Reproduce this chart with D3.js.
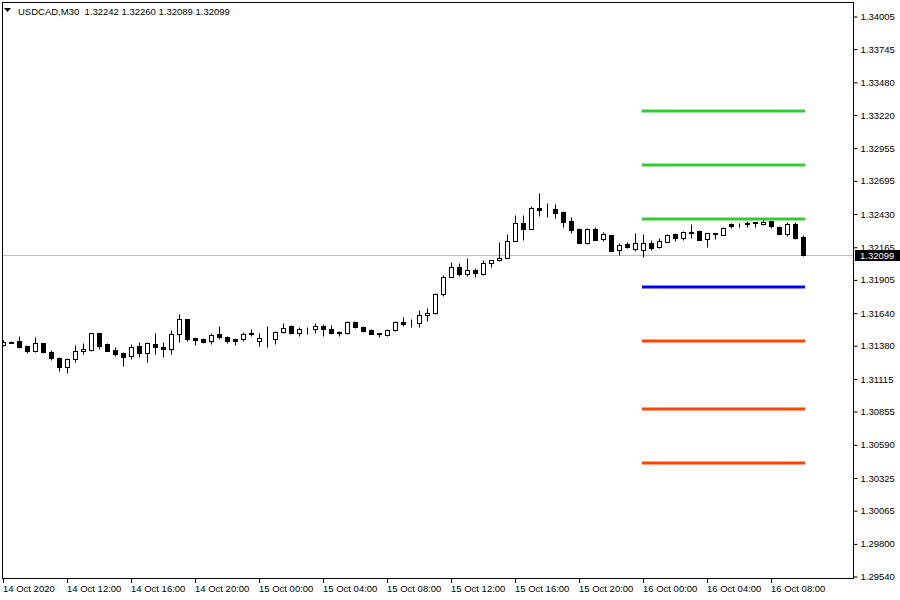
<!DOCTYPE html>
<html><head><meta charset="utf-8">
<script src="https://cdn.jsdelivr.net/npm/d3@7"></script>
<style>
html,body{margin:0;padding:0;background:#fff;}
svg{display:block;font-family:"Liberation Sans",Arial,sans-serif;}
</style></head>
<body><svg id="chart" width="900" height="600"></svg>
<script>
// ---------- data ----------
const symbolTitle = "USDCAD,M30  1.32242 1.32260 1.32089 1.32099";
const opens  = [1.31382,1.31406,1.31414,1.31374,1.31334,1.31398,1.31326,1.31280,1.31206,1.31270,
  1.31330,1.31342,1.31476,1.31388,1.31342,1.31320,1.31294,1.31374,1.31320,1.31390,
  1.31368,1.31348,1.31468,1.31588,1.31436,1.31428,1.31414,1.31468,1.31444,1.31428,
  1.31428,1.31480,1.31414,1.31444,1.31428,1.31484,1.31534,1.31476,1.31514,1.31510,
  1.31534,1.31508,1.31486,1.31476,1.31568,1.31528,1.31502,1.31476,1.31462,1.31502,
  1.31568,1.31554,1.31556,1.31620,1.31636,1.31785,1.31925,1.32005,1.31945,1.31979,
  1.31945,1.32035,1.32059,1.32073,1.32213,1.32357,1.32307,1.32473,1.32467,1.32465,
  1.32441,1.32371,1.32305,1.32193,1.32305,1.32225,1.32259,1.32139,1.32185,1.32145,
  1.32139,1.32193,1.32161,1.32205,1.32265,1.32237,1.32275,1.32291,1.32225,1.32267,
  1.32259,1.32345,1.32345,1.32345,1.32357,1.32347,1.32371,1.32325,1.32265,1.32347,
  1.32242];
const highs  = [1.31422,1.31414,1.31454,1.31382,1.31446,1.31400,1.31342,1.31288,1.31278,1.31382,
  1.31400,1.31478,1.31480,1.31400,1.31368,1.31328,1.31388,1.31408,1.31408,1.31476,
  1.31408,1.31502,1.31630,1.31590,1.31440,1.31436,1.31476,1.31534,1.31454,1.31434,
  1.31488,1.31508,1.31480,1.31534,1.31494,1.31560,1.31542,1.31528,1.31528,1.31556,
  1.31550,1.31542,1.31494,1.31576,1.31576,1.31534,1.31508,1.31478,1.31508,1.31576,
  1.31604,1.31588,1.31662,1.31676,1.31797,1.31939,1.32045,1.32033,1.32073,1.31993,
  1.32059,1.32061,1.32205,1.32267,1.32419,1.32419,1.32491,1.32593,1.32513,1.32507,
  1.32451,1.32401,1.32317,1.32311,1.32325,1.32281,1.32261,1.32193,1.32205,1.32273,
  1.32265,1.32219,1.32233,1.32265,1.32277,1.32291,1.32345,1.32295,1.32275,1.32275,
  1.32319,1.32357,1.32357,1.32371,1.32361,1.32385,1.32373,1.32331,1.32365,1.32365,
  1.32260];
const lows   = [1.31374,1.31398,1.31360,1.31318,1.31326,1.31320,1.31262,1.31176,1.31158,1.31250,
  1.31308,1.31334,1.31348,1.31334,1.31294,1.31216,1.31268,1.31288,1.31250,1.31310,
  1.31284,1.31310,1.31408,1.31416,1.31382,1.31396,1.31388,1.31428,1.31396,1.31382,
  1.31414,1.31454,1.31376,1.31368,1.31388,1.31476,1.31470,1.31456,1.31468,1.31476,
  1.31456,1.31470,1.31456,1.31468,1.31516,1.31488,1.31468,1.31448,1.31456,1.31494,
  1.31534,1.31528,1.31524,1.31576,1.31630,1.31773,1.31921,1.31933,1.31933,1.31925,
  1.31939,1.32001,1.32053,1.32073,1.32211,1.32219,1.32305,1.32411,1.32401,1.32393,
  1.32325,1.32277,1.32193,1.32190,1.32217,1.32213,1.32131,1.32099,1.32153,1.32133,
  1.32085,1.32139,1.32153,1.32201,1.32213,1.32219,1.32233,1.32219,1.32165,1.32225,
  1.32259,1.32317,1.32325,1.32325,1.32325,1.32339,1.32313,1.32265,1.32253,1.32227,
  1.32089];
const closes = [1.31406,1.31398,1.31366,1.31334,1.31398,1.31326,1.31278,1.31204,1.31270,1.31330,
  1.31348,1.31476,1.31376,1.31336,1.31308,1.31288,1.31368,1.31320,1.31396,1.31364,
  1.31348,1.31468,1.31588,1.31430,1.31422,1.31404,1.31462,1.31444,1.31416,1.31416,
  1.31470,1.31468,1.31440,1.31446,1.31488,1.31516,1.31476,1.31508,1.31518,1.31534,
  1.31508,1.31476,1.31480,1.31568,1.31524,1.31496,1.31470,1.31470,1.31502,1.31568,
  1.31548,1.31556,1.31622,1.31640,1.31787,1.31921,1.32001,1.31945,1.31979,1.31953,
  1.32033,1.32059,1.32077,1.32211,1.32353,1.32307,1.32473,1.32459,1.32467,1.32437,
  1.32365,1.32299,1.32193,1.32305,1.32219,1.32265,1.32133,1.32179,1.32161,1.32197,
  1.32197,1.32153,1.32213,1.32259,1.32233,1.32281,1.32283,1.32219,1.32273,1.32273,
  1.32317,1.32333,1.32345,1.32357,1.32359,1.32365,1.32331,1.32265,1.32347,1.32237,
  1.32099];
const timeLabels = ["14 Oct 2020","14 Oct 12:00","14 Oct 16:00","14 Oct 20:00","15 Oct 00:00",
  "15 Oct 04:00","15 Oct 08:00","15 Oct 12:00","15 Oct 16:00","15 Oct 20:00",
  "16 Oct 00:00","16 Oct 04:00","16 Oct 08:00"];
const timeLabelBars = [0,8,16,24,32,40,48,56,64,72,80,88,96];
const priceTicks = [1.34005,1.33745,1.33480,1.33220,1.32955,1.32695,1.32430,1.32165,1.31905,
  1.31640,1.31380,1.31115,1.30855,1.30590,1.30325,1.30065,1.29800,1.29540];
const levelValues = [1.33248,1.32817,1.32386,1.31844,1.31414,1.30872,1.30441];
const levelColors = ["#32cd32","#32cd32","#32cd32","#0000ff","#ff4500","#ff4500","#ff4500"];
const levelStartBar = 80, levelEndBar = 100;
const bidPrice = 1.32099;

// ---------- layout ----------
const svg = d3.select("#chart");
const L = 2, T = 2, R = 853, B = 578;
const x = d3.scaleLinear().domain([0, 100]).range([3, 803]);
const y = d3.scaleLinear().domain([1.29540, 1.34005]).range([576, 16]);
const px = v => Math.round(x(v)) + 0.5;
const py = v => Math.round(y(v)) + 0.5;

const plot = svg.append("g");
svg.append("defs").append("clipPath").attr("id","clip")
  .append("rect").attr("x", L+1).attr("y", T+1).attr("width", R-L-1).attr("height", B-T-1);
const inner = plot.append("g").attr("clip-path","url(#clip)");

// bid line
inner.append("line").attr("x1", L).attr("x2", R).attr("y1", py(bidPrice)).attr("y2", py(bidPrice))
  .attr("stroke", "#c0c0c0").attr("stroke-width", 1);

// candles
const bars = d3.range(opens.length).map(i => ({i, o:opens[i], h:highs[i], l:lows[i], c:closes[i]}));
const cg = inner.append("g");
bars.forEach(d => {
  const cx = px(d.i);
  cg.append("line").attr("x1", cx).attr("x2", cx).attr("y1", py(d.h)).attr("y2", py(d.l))
    .attr("stroke", "#000").attr("stroke-width", 1);
  const top = py(Math.max(d.o, d.c)), bot = py(Math.min(d.o, d.c));
  const bull = d.c > d.o;
  cg.append("rect").attr("x", cx - 2).attr("y", top).attr("width", 4).attr("height", Math.max(0, bot - top))
    .attr("fill", bull ? "#fff" : "#000").attr("stroke", "#000").attr("stroke-width", 1);
});

// levels
inner.selectAll("line.level").data(levelValues).join("line").attr("class","level")
  .attr("x1", x(levelStartBar) - 1).attr("x2", x(levelEndBar) + 2)
  .attr("y1", d => Math.round(y(d))).attr("y2", d => Math.round(y(d)))
  .attr("stroke", (d,i) => levelColors[i]).attr("stroke-width", 3);

// frame
plot.append("rect").attr("x", L + 0.5).attr("y", T + 0.5).attr("width", R - L).attr("height", B - T)
  .attr("fill", "none").attr("stroke", "#000").attr("stroke-width", 1);

// right price axis
const yAxis = d3.axisRight(y).tickValues(priceTicks).tickFormat(d3.format(".5f"))
  .tickSize(4).tickPadding(3);
const ya = svg.append("g").attr("transform", `translate(${R + 0.5},0.5)`).call(yAxis);
ya.select(".domain").remove();
ya.selectAll("text").attr("font-size", "9.5px").attr("fill", "#000").attr("font-family", '"Liberation Sans",Arial,sans-serif');
ya.selectAll("line").attr("stroke", "#000");

// bid price box
const bg = svg.append("g");
bg.append("rect").attr("x", R + 2).attr("y", Math.round(y(bidPrice)) - 5).attr("width", 900 - R - 2).attr("height", 11).attr("fill", "#000");
bg.append("text").attr("x", R + 7).attr("y", Math.round(y(bidPrice)) + 4).attr("fill", "#fff")
  .attr("font-size", "9.5px").text(d3.format(".5f")(bidPrice));

// bottom time axis
const xa = svg.append("g");
timeLabelBars.forEach((b, k) => {
  const tx = px(b);
  xa.append("line").attr("x1", tx).attr("x2", tx).attr("y1", B).attr("y2", B + 5).attr("stroke", "#000");
  xa.append("text").attr("x", tx - 0.5).attr("y", 592).attr("font-size", "9.5px").attr("fill", "#000").text(timeLabels[k]);
});

// title
svg.append("path").attr("d", "M4,8 L11,8 L7.5,12 Z").attr("fill", "#000");
svg.append("text").attr("x", 18).attr("y", 15).attr("font-size", "9.5px").attr("fill", "#000")
  .style("white-space", "pre").attr("xml:space", "preserve").text(symbolTitle);
</script></body></html>
